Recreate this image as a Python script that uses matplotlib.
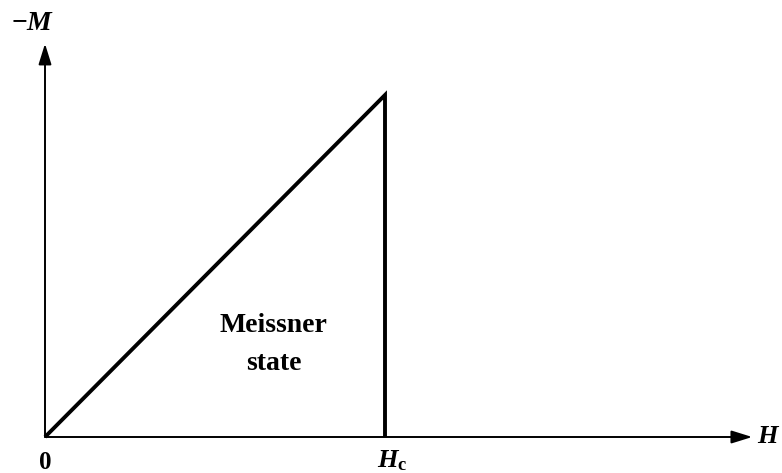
import matplotlib.pyplot as plt

plt.rcParams['font.family'] = ['Liberation Serif', 'DejaVu Serif']
plt.rcParams['mathtext.fontset'] = 'custom'
plt.rcParams['mathtext.it'] = 'Liberation Serif:italic:bold'
plt.rcParams['mathtext.rm'] = 'Liberation Serif:bold'

# magnetisation curve of a type-I superconductor, field in units of Hc
H = [0.0, 1.0, 1.0]
neg_M = [0.0, 1.0, 0.0]
H_axis_end = 2.08
M_axis_end = 1.15

fig = plt.figure(figsize=(7.82, 4.73), dpi=100)
ax = fig.add_axes([0, 0, 1, 1])
# roughly 340 px per unit along both directions
ax.set_xlim(-45 / 340, 737 / 340)
ax.set_ylim(-36 / 342, 437 / 342)
ax.axis('off')

arrow = dict(arrowstyle='-|>,head_length=0.9,head_width=0.28', color='black',
             lw=1.4, shrinkA=0, shrinkB=0, mutation_scale=14)
ax.annotate('', xy=(H_axis_end, 0), xytext=(0, 0), arrowprops=arrow)
ax.annotate('', xy=(0, M_axis_end), xytext=(0, 0), arrowprops=arrow)

ax.plot(H, neg_M, color='black', lw=2.8, solid_joinstyle='miter',
        solid_capstyle='butt')

ax.text(-0.035, 1.21, r'$-M$', fontsize=20, ha='center', va='center')
ax.text(2.093, 0.0, r'$H$', fontsize=19, ha='left', va='center')
ax.text(0.0, -0.042, '0', fontsize=18, fontweight='bold', ha='center', va='top')
ax.text(1.02, -0.032, r'$H_{\mathrm{c}}$', fontsize=19, ha='center', va='top')
ax.text(0.673, 0.27, 'Meissner\nstate', fontsize=20, fontweight='bold',
        ha='center', va='center', linespacing=1.7)

fig.savefig('out.png', dpi=100)
